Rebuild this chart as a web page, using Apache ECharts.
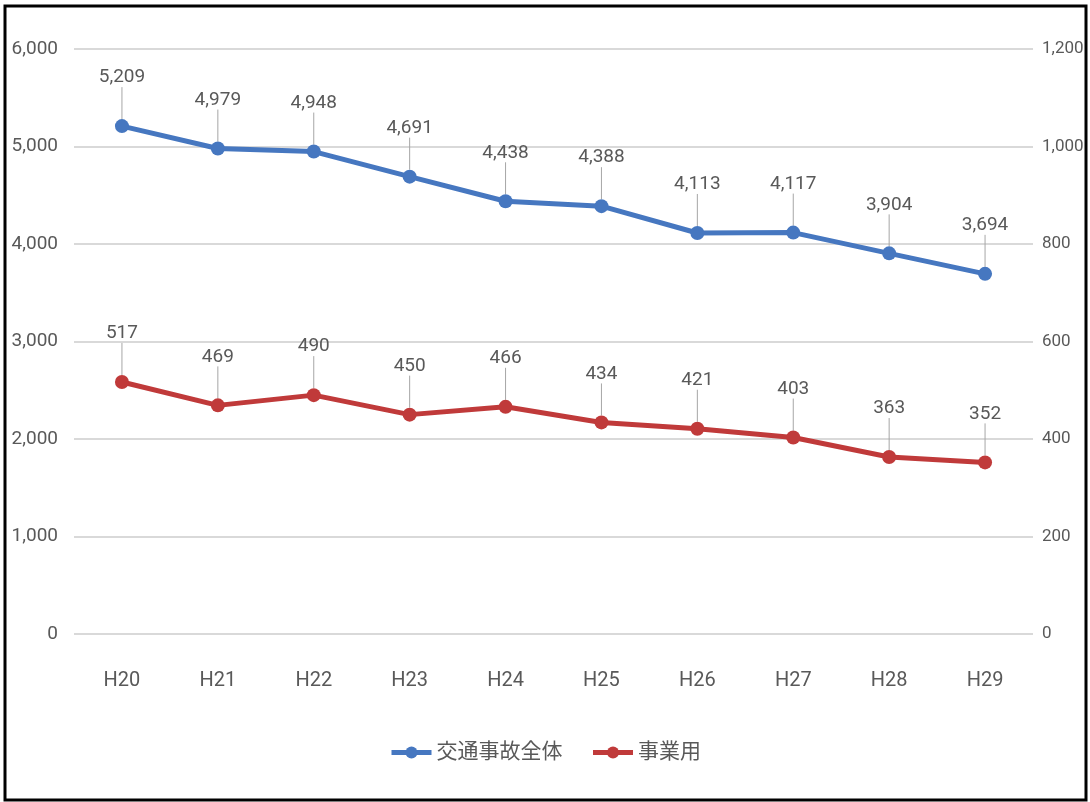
<!DOCTYPE html>
<html><head><meta charset="utf-8">
<script src="https://cdn.jsdelivr.net/npm/echarts@6/dist/echarts.min.js"></script>
<style>html,body{margin:0;padding:0;background:#fff}#c{width:1090px;height:802px}</style>
</head><body><div id="c"></div>
<script>
const categories = ['H20','H21','H22','H23','H24','H25','H26','H27','H28','H29'];
const totalAccidents = [5209,4979,4948,4691,4438,4388,4113,4117,3904,3694];
const businessUse = [517,469,490,450,466,434,421,403,363,352];
const seriesNames = ['交通事故全体','事業用'];
const FONT = 'Roboto,"Noto Sans CJK JP",sans-serif';
const chart = echarts.init(document.getElementById('c'));
const labelCommon = {show:true, position:'top', distance:8, color:'#595959', fontSize:19, fontFamily:FONT,
  formatter: p => p.value.toLocaleString('en-US')};
chart.setOption({
  animation:false,
  textStyle:{fontFamily:FONT},
  graphic:[{type:'rect', shape:{x:5,y:6,width:1081,height:794}, style:{fill:'none', stroke:'#000', lineWidth:3}, silent:true}],
  grid:{left:74, right:57, top:49, bottom:168, outerBoundsMode:'none', containLabel:false},
  legend:{bottom:34, left:'center', itemWidth:40, itemHeight:15, itemGap:28,
    lineStyle:{width:5},
    textStyle:{color:'#595959', fontSize:21, fontFamily:FONT}, data:seriesNames},
  xAxis:{type:'category', data:categories, boundaryGap:true,
    axisLine:{show:false}, axisTick:{show:false},
    axisLabel:{color:'#595959', fontSize:20, margin:37, fontFamily:FONT}},
  yAxis:[
    {type:'value', min:0, max:6000, interval:1000,
     axisLabel:{color:'#595959', fontSize:19, margin:16, fontFamily:FONT, formatter:v=>v.toLocaleString('en-US')},
     splitLine:{lineStyle:{color:'#d9d9d9', width:2}}, axisLine:{show:false}, axisTick:{show:false}},
    {type:'value', min:0, max:1200, interval:200, position:'right',
     axisLabel:{color:'#595959', fontSize:17, margin:9, fontFamily:FONT, formatter:v=>v.toLocaleString('en-US')},
     splitLine:{show:false}, axisLine:{show:false}, axisTick:{show:false}}
  ],
  series:[
    {name:seriesNames[0], type:'line', yAxisIndex:0, data:totalAccidents,
     symbol:'circle', symbolSize:14, color:'#4677c0',
     lineStyle:{width:5, color:'#4677c0'}, itemStyle:{color:'#4677c0'},
     label:labelCommon, labelLayout:{dy:-24}, labelLine:{show:true, lineStyle:{color:'#a6a6a6', width:1}}},
    {name:seriesNames[1], type:'line', yAxisIndex:1, data:businessUse,
     symbol:'circle', symbolSize:14, color:'#c03a3a',
     lineStyle:{width:5, color:'#c03a3a'}, itemStyle:{color:'#c03a3a'},
     label:labelCommon, labelLayout:{dy:-24}, labelLine:{show:true, lineStyle:{color:'#a6a6a6', width:1}}}
  ]
});
</script></body></html>
